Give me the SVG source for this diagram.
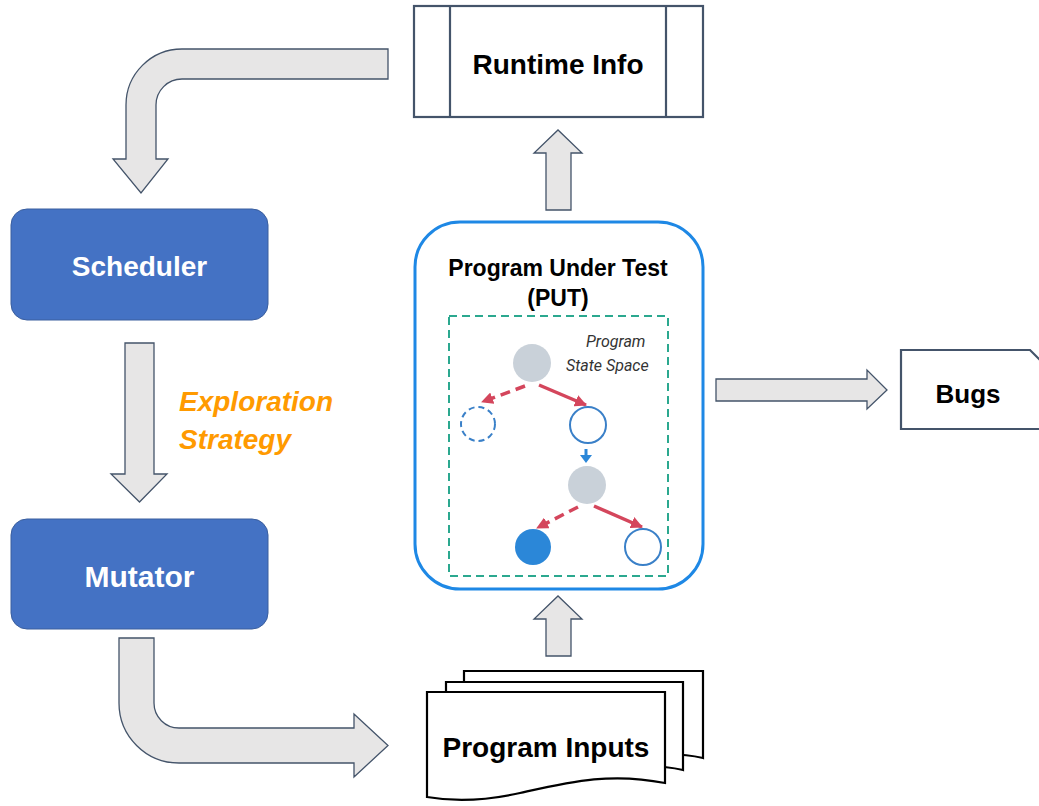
<svg xmlns="http://www.w3.org/2000/svg" width="1039" height="806" viewBox="0 0 1039 806">
  <defs>
    <style>
      .block { fill: #E7E6E6; stroke: #44546A; stroke-width: 1.3; stroke-linejoin: miter; }
      .proc { fill: #4472C4; stroke: #3A5E9E; stroke-width: 1; }
      .proc-label { font-family: "Liberation Sans", Arial, sans-serif; font-weight: bold; font-size: 28px; fill: #FFFFFF; text-anchor: middle; }
      .label { font-family: "Liberation Sans", Arial, sans-serif; font-weight: bold; font-size: 28px; fill: #000000; text-anchor: middle; }
      .frame { fill: #FFFFFF; stroke: #44546A; stroke-width: 2.2; }
      .doc { fill: #FFFFFF; stroke: #000000; stroke-width: 2.2; stroke-linejoin: miter; }
      .state { fill: #C9D1D9; }
      .open { fill: #FFFFFF; stroke: #3A80C8; stroke-width: 2; }
      .edge { stroke: #D4465C; stroke-width: 3.5; fill: none; }
      .space-label { font-family: Roboto, "Liberation Sans", sans-serif; font-style: italic; font-size: 16px; fill: #333333; }
    </style>
    <marker id="redHead" viewBox="0 0 12 12" refX="11" refY="6" markerWidth="12" markerHeight="12" markerUnits="userSpaceOnUse" orient="auto">
      <path d="M0 0 L12 6 L0 12 Z" fill="#D4465C"/>
    </marker>
  </defs>

  <rect width="1039" height="806" fill="#FFFFFF"/>

  <!-- block arrows between the stages -->
  <g id="connectors">
    <path class="block" d="M388 49 L182 49 A56 56 0 0 0 126 105 L126 159 L113 159 L141 193 L168 159 L156 159 L156 105 A26 26 0 0 1 182 79 L388 79 Z"/>
    <path class="block" d="M125 343 H154 V474 H167 L139.5 502 L111 474 H125 Z"/>
    <path class="block" d="M119 638 L154 638 L154 703 A25 25 0 0 0 179 728 L354 728 L354 714 L388 745.5 L354 777 L354 763 L179 763 A60 60 0 0 1 119 703 Z"/>
    <path class="block" d="M546 656 V619 H534 L558 596 L582 619 H571 V656 Z"/>
    <path class="block" d="M546 210 V153 H534 L558 130 L582 153 H571 V210 Z"/>
    <path class="block" d="M716 379 H867 V370 L887 390 L867 409 V401 H716 Z"/>
  </g>

  <g id="scheduler">
    <rect class="proc" x="11" y="209" width="257" height="111" rx="16"/>
    <text class="proc-label" x="139.5" y="276">Scheduler</text>
  </g>

  <g id="exploration-strategy">
    <text font-family="Liberation Sans, Arial, sans-serif" font-weight="bold" font-style="italic" font-size="28" fill="#FF9A00">
      <tspan x="179" y="411">Exploration</tspan>
      <tspan x="179" y="449">Strategy</tspan>
    </text>
  </g>

  <g id="mutator">
    <rect class="proc" x="11" y="519" width="257" height="110" rx="16"/>
    <text class="proc-label" x="139.5" y="587" style="font-size:30px">Mutator</text>
  </g>

  <g id="runtime-info">
    <rect class="frame" x="414" y="6" width="289" height="111"/>
    <line x1="450" y1="6" x2="450" y2="117" stroke="#44546A" stroke-width="2.2"/>
    <line x1="666" y1="6" x2="666" y2="117" stroke="#44546A" stroke-width="2.2"/>
    <text class="label" x="558" y="74">Runtime Info</text>
  </g>

  <g id="program-under-test">
    <rect x="415" y="222" width="288" height="367" rx="45" fill="#FFFFFF" stroke="#1E88E5" stroke-width="3"/>
    <text class="label" x="558" y="276" style="font-size:23px">Program Under Test</text>
    <text class="label" x="558" y="306" style="font-size:23px">(PUT)</text>
    <rect x="449" y="316" width="219" height="260" fill="none" stroke="#2BA88F" stroke-width="2" stroke-dasharray="8 5"/>
    <text class="space-label" x="586" y="347">Program</text>
    <text class="space-label" x="566" y="371">State Space</text>

    <!-- state tree -->
    <line class="edge" x1="525" y1="386" x2="482" y2="402" stroke-dasharray="10 6" marker-end="url(#redHead)"/>
    <line class="edge" x1="539" y1="385" x2="586" y2="405" marker-end="url(#redHead)"/>
    <line class="edge" x1="578" y1="507" x2="537" y2="528" stroke-dasharray="10 6" marker-end="url(#redHead)"/>
    <line class="edge" x1="594" y1="506" x2="642" y2="527" marker-end="url(#redHead)"/>

    <circle class="state" cx="532" cy="363" r="19"/>
    <circle cx="478" cy="424" r="17" fill="#FFFFFF" stroke="#3A80C8" stroke-width="2" stroke-dasharray="6 4"/>
    <circle class="open" cx="588" cy="425" r="18"/>
    <line x1="586" y1="449" x2="586" y2="456" stroke="#2B87D8" stroke-width="3"/>
    <path d="M580 455 L592 455 L586 463 Z" fill="#2B87D8"/>
    <circle class="state" cx="587" cy="485" r="19"/>
    <circle cx="533" cy="547" r="18" fill="#2B87D8"/>
    <circle class="open" cx="643" cy="547" r="18"/>
  </g>

  <g id="bugs">
    <path class="frame" d="M901 350 H1030 L1046 366 V429 H901 Z"/>
    <text class="label" x="968" y="403" style="font-size:26px">Bugs</text>
  </g>

  <g id="program-inputs">
    <path class="doc" d="M464 671 H703 V758 C660 748 620 760 580 768 C540 776 500 774 464 770 Z"/>
    <path class="doc" d="M446 682 H683 V770 C640 760 600 772 560 780 C520 788 480 786 446 782 Z"/>
    <path class="doc" d="M427 692 H665 V783 C610 772 570 782 520 793 C480 802 450 801 427 797 Z"/>
    <text class="label" x="546" y="757">Program Inputs</text>
  </g>
</svg>
